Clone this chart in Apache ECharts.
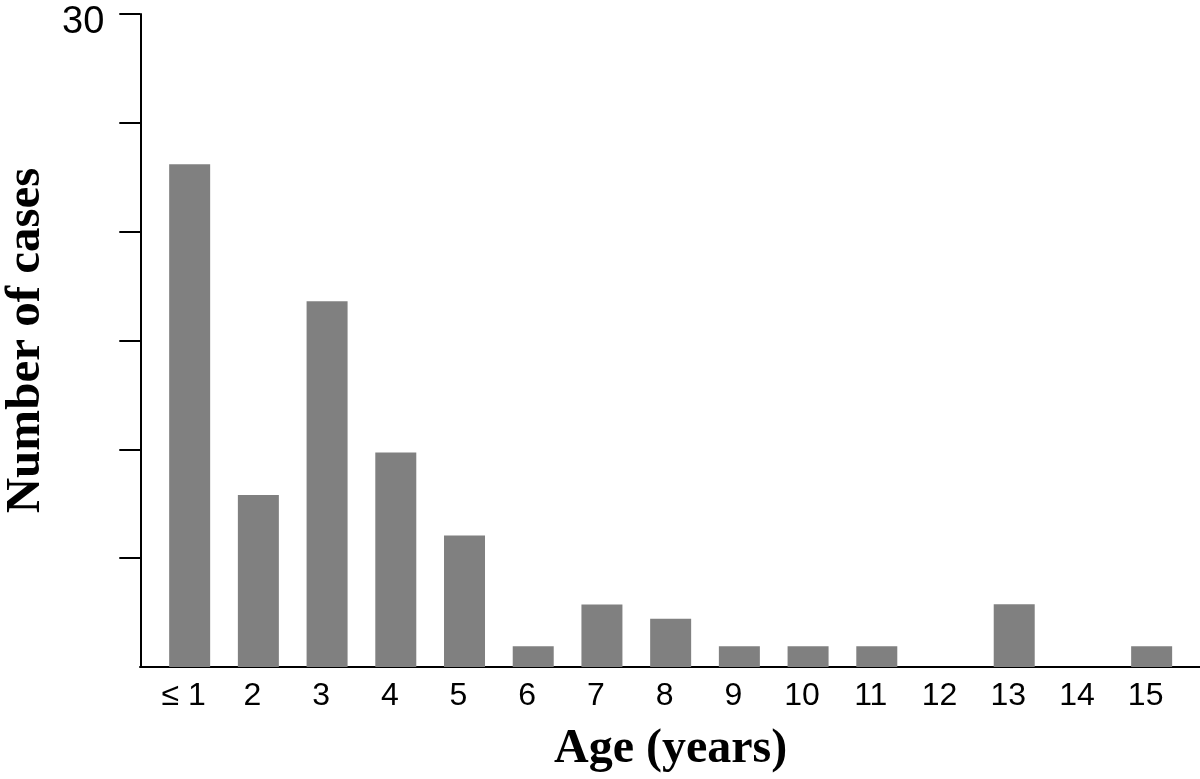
<!DOCTYPE html>
<html>
<head>
<meta charset="utf-8">
<script src="https://cdn.jsdelivr.net/npm/echarts@6/dist/echarts.min.js"></script>
<style>html,body{margin:0;padding:0;background:#fff;}#c{width:1200px;height:779px;}</style>
</head>
<body>
<div id="c"></div>
<script>
var categories = ['\u2264 1', '2', '3', '4', '5', '6', '7', '8', '9', '10', '11', '12', '13', '14', '15'];
var cases = [23.1, 7.9, 16.8, 9.85, 6.04, 0.95, 2.87, 2.22, 0.95, 0.95, 0.95, 0, 2.88, 0, 0.95];
var yTicks = [5, 10, 15, 20, 25, 30];
var yLabels = [30];

var chart = echarts.init(document.getElementById('c'), null, {renderer: 'canvas'});
chart.setOption({
  backgroundColor: '#ffffff',
  animation: false,
  grid: [
    {left: 155.3, right: 14, top: 14, bottom: 112, outerBoundsMode: 'none', containLabel: false},
    {left: 140, right: 0, top: 14, bottom: 112, outerBoundsMode: 'none', containLabel: false}
  ],
  xAxis: [
    {
      type: 'category', gridIndex: 0, data: categories,
      axisLine: {show: false},
      axisTick: {show: false},
      axisLabel: {
        color: '#000', fontSize: 32, fontFamily: '"Liberation Sans", Arial, sans-serif',
        margin: 13, padding: [0, 12, 0, 0], interval: 0
      },
      name: 'Age (years)', nameLocation: 'middle', nameGap: 59,
      nameTextStyle: {color: '#000', fontSize: 48, fontWeight: 'bold', fontFamily: '"Liberation Serif", "Times New Roman", serif'}
    },
    {
      type: 'value', gridIndex: 1, min: 0, max: 1,
      axisLine: {show: true, lineStyle: {color: '#000', width: 2}},
      axisTick: {show: false}, axisLabel: {show: false}, splitLine: {show: false}
    }
  ],
  yAxis: [
    {
      type: 'value', gridIndex: 0, min: 0, max: 30, interval: 5, offset: 15,
      axisLine: {show: true, lineStyle: {color: '#000', width: 2}},
      axisTick: {show: true, length: 21, customValues: yTicks, lineStyle: {color: '#000', width: 2}},
      axisLabel: {
        show: true, customValues: yLabels, color: '#000', fontSize: 38,
        fontFamily: '"Liberation Sans", Arial, sans-serif', margin: 36,
        verticalAlign: 'top', lineHeight: 18
      },
      splitLine: {show: false},
      name: 'Number of cases', nameLocation: 'middle', nameGap: 87, nameRotate: 90,
      nameTextStyle: {color: '#000', fontSize: 49, fontWeight: 'bold', fontFamily: '"Liberation Serif", "Times New Roman", serif'}
    },
    {type: 'value', gridIndex: 1, show: false, min: 0, max: 1}
  ],
  series: [{
    type: 'bar', xAxisIndex: 0, yAxisIndex: 0, data: cases,
    barWidth: 41, itemStyle: {color: '#808080'}
  }]
});
</script>
</body>
</html>
